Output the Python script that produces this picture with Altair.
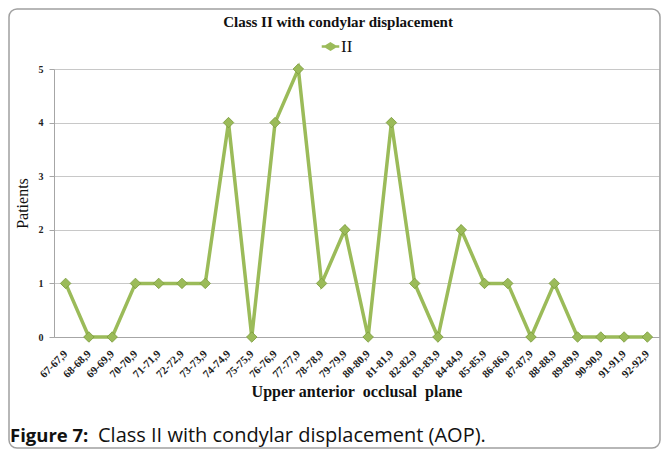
import altair as alt
import pandas as pd

categories = ["67-67,9", "68-68,9", "69-69,9", "70-70,9", "71-71,9", "72-72,9",
              "73-73,9", "74-74,9", "75-75,9", "76-76,9", "77-77,9", "78-78,9",
              "79-79,9", "80-80,9", "81-81,9", "82-82,9", "83-83,9", "84-84,9",
              "85-85,9", "86-86,9", "87-87,9", "88-88,9", "89-89,9", "90-90,9",
              "91-91,9", "92-92,9"]
patients = [1, 0, 0, 1, 1, 1, 1, 4, 0, 4, 5, 1, 2, 0, 4, 1, 0, 2, 1, 1, 0, 1, 0, 0, 0, 0]
series_name = "II"
y_ticks = [0, 1, 2, 3, 4, 5]

df = pd.DataFrame({"range": categories, "patients": patients, "series": series_name})

W, H = 605, 268
PL, PT, PR, PB = 46, 61, 2, 112

x_enc = alt.X("range:N", sort=categories,
              scale=alt.Scale(padding=0.5),
              axis=alt.Axis(title="Upper anterior\u00a0\u00a0occlusal\u00a0\u00a0plane", labelAngle=-45,
                            labelAlign="right", labelBaseline="middle",
                            labelFont="Liberation Serif", labelFontWeight="bold",
                            labelFontSize=11, labelColor="#222", labelPadding=15,
                            ticks=False, domainColor="#A6A6A6", grid=False,
                            titleFont="Liberation Serif", titleFontSize=16,
                            titleFontWeight="bold", titleColor="#111", titlePadding=4))
y_enc = alt.Y("patients:Q", scale=alt.Scale(domain=[0, 5], nice=False),
              axis=alt.Axis(title="Patients", values=y_ticks, format="d",
                            labelFont="Liberation Serif", labelFontWeight="bold",
                            labelFontSize=10, labelColor="#222", labelPadding=6,
                            tickSize=5, tickColor="#A6A6A6", domainColor="#A6A6A6",
                            gridColor="#C8C8C8", titleFont="Liberation Serif",
                            titleFontSize=16, titleFontWeight="normal", titleColor="#111",
                            titlePadding=8))

color_enc = alt.Color("series:N", scale=alt.Scale(range=["#9BBB59"]),
                      legend=alt.Legend(title=None, orient="none", legendX=268, legendY=-31,
                                        symbolType="M-1.6,0L1.6,0M0,-0.55L0.9,0L0,0.55L-0.9,0Z",
                                        symbolSize=120, symbolStrokeWidth=2.5,
                                        symbolFillColor="#9BBB59", symbolStrokeColor="#9BBB59",
                                        labelFont="Liberation Serif", labelFontSize=17,
                                        labelColor="#111", labelOffset=2))

line = alt.Chart(df).mark_line(strokeWidth=3.5, color="#9BBB59").encode(
    x=x_enc, y=y_enc, color=color_enc)
pts = alt.Chart(df).mark_point(shape="diamond", filled=True, size=110, opacity=1,
                                fill="#9BBB59", stroke="#7A9A3A", strokeWidth=0.8).encode(
    x=alt.X("range:N", sort=categories), y="patients:Q")

title_txt = alt.Chart(pd.DataFrame({"t": ["Class II with condylar displacement"]})).mark_text(
    font="Liberation Serif", fontSize=15, fontWeight="bold", color="#111"
).encode(text="t:N", x=alt.value(284), y=alt.value(-47))

cap_df = pd.DataFrame({"a": ["Figure 7:"], "b": ["Class II with condylar displacement (AOP)."]})
cap1 = alt.Chart(cap_df).mark_text(font="Open Sans", fontSize=18.5, fontWeight="bold",
                                   align="left", color="#111").encode(
    text="a:N", x=alt.value(-44), y=alt.value(367))
cap2 = alt.Chart(cap_df).mark_text(font="Open Sans", fontSize=20, align="left",
                                   color="#111").encode(
    text="b:N", x=alt.value(44), y=alt.value(367))

border = alt.Chart(cap_df).mark_rect(fill=None, stroke="#A0A0A0", strokeWidth=1.5,
                                     cornerRadius=8).encode(
    x=alt.value(-PL + 1), x2=alt.value(W + PR - 1), y=alt.value(-PT + 1), y2=alt.value(H + PB - 1))

chart = alt.layer(border, line, pts, title_txt, cap1, cap2).properties(
    width=W, height=H,
    autosize=alt.AutoSizeParams(type="none"),
    padding={"left": PL, "top": PT, "right": PR, "bottom": PB},
).configure_view(stroke=None).configure(background="white")

chart.save("out.html", embed_options={"renderer": "svg", "actions": False})
